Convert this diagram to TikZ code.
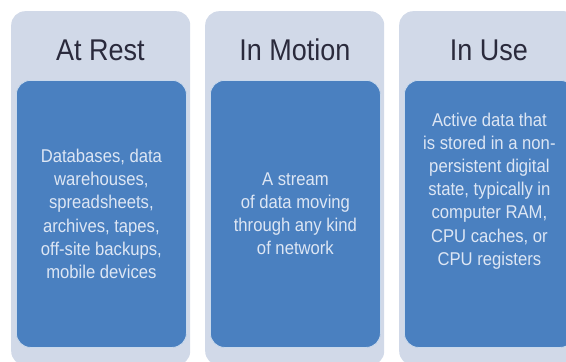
\documentclass[tikz,border=0pt]{standalone}
\usepackage{fontspec}
\setmainfont{Liberation Sans}[FakeStretch=0.9]
\usetikzlibrary{positioning}
\definecolor{panelgrey}{HTML}{D1D9E8}
\definecolor{stateblue}{HTML}{4A80C0}
\definecolor{titleink}{HTML}{2A2A3C}
\definecolor{bodyink}{HTML}{DDE6F4}

\tikzset{
  panel/.style={fill=panelgrey, rounded corners=14pt, minimum width=179pt,
    minimum height=354pt, anchor=north west, inner sep=0pt},
  statebox/.style={fill=stateblue, draw=white!70!stateblue, line width=0.8pt,
    rounded corners=14pt, minimum width=170pt, minimum height=267pt,
    anchor=north west, inner sep=0pt},
  heading/.style={text=titleink, anchor=base, font=\fontsize{30}{36}\selectfont},
  body/.style={text=bodyink, align=center, inner sep=0pt,
    font=\fontsize{18.5}{23.2}\selectfont},
}

\begin{document}
\begin{tikzpicture}[x=1pt,y=-1pt]
    \useasboundingbox (0,0) rectangle (566,362);
    \clip (0,0) rectangle (566,362);
    % three states of data
    \node[panel] (restpanel) at (11,11) {};
    \node[panel] (motionpanel) at (205,11) {};
    \node[panel] (usepanel) at (399,11) {};
    \node[heading] (resttitle) at (100.5,60) {At Rest};
    \node[heading] (motiontitle) at (295,60) {In Motion};
    \node[heading] (usetitle) at (489,60) {In Use};
    \node[statebox] (restbox) at (16,80) {};
    \node[statebox] (motionbox) at (210,80) {};
    \node[statebox] (usebox) at (404,80) {};
    \node[body] (resttext) at (restbox.center)
        {Databases, data\\ warehouses,\\ spreadsheets,\\ archives, tapes,\\
         off-site backups,\\ mobile devices};
    \node[body] (motiontext) at (motionbox.center)
        {A stream\\ of data moving\\ through any kind\\ of network};
    \node[body, yshift=23pt] (usetext) at (usebox.center)
        {Active data that\\ is stored in a non-\\ persistent digital\\
         state, typically in\\ computer RAM,\\ CPU caches, or\\ CPU registers};
\end{tikzpicture}
\end{document}
